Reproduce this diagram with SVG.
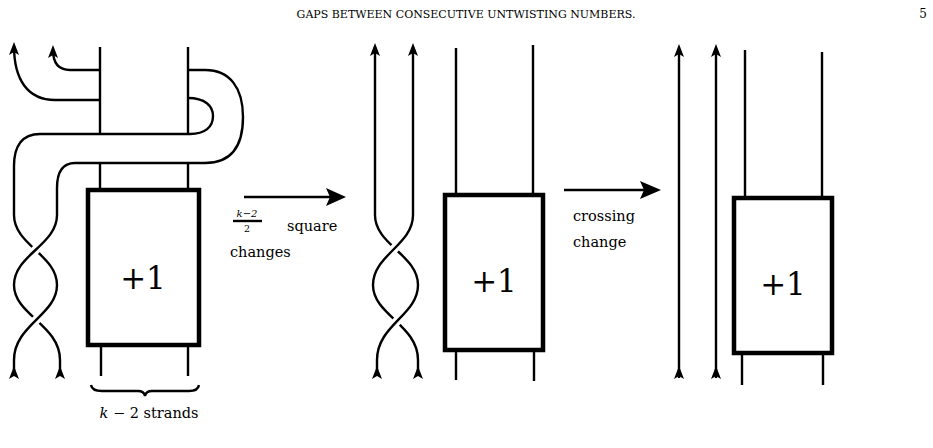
<svg xmlns="http://www.w3.org/2000/svg" width="933" height="448" viewBox="0 0 933 448">
<style>
.s{fill:none;stroke:#000;stroke-width:2.4}
.w{fill:none;stroke:#fff;stroke-width:9}
.b{fill:#fff;stroke:#000;stroke-width:4.5}
.ah{fill:#000}
text{font-family:"DejaVu Serif","Liberation Serif",serif;fill:#000}
</style>
<defs>
<path id="up" d="M0,0 L-5,13 L0,10 L5,13 Z"/>
</defs>
<text x="466" y="18" font-size="11" text-anchor="middle">GAPS BETWEEN CONSECUTIVE UNTWISTING NUMBERS.</text>
<text x="927" y="18" font-size="12" text-anchor="end">5</text>

<g id="left-diagram">
<path class="s" d="M100,47 V134 M188,47 V134 M100,163 V190 M188,163 V190 M101,345 V376 M188,345 V376"/>
<path class="s" d="M14,46 C14,80 28,100 55,100 H100"/>
<path class="s" d="M53,50 C53,62 58,70 70,70 H100"/>
<path class="s" d="M188,70 H205 C230,70 243,88 243,117 C243,148 230,163 205,163 H75 C62,163 57,172 57,188 V215"/>
<path class="s" d="M188,98 C205,98 213,106 213,116 C213,127 205,134 190,134 H40 C22,134 14,146 14,166 V215"/>
<path class="s" d="M14,215 C14,245 57,255 57,285"/>
<path class="s" d="M14,285 C14,315 60,325 60,360 V370"/>
<path class="w" d="M57,215 C57,245 14,255 14,285"/>
<path class="s" d="M57,215 C57,245 14,255 14,285"/>
<path class="w" d="M57,285 C57,315 14,325 14,360"/>
<path class="s" d="M57,285 C57,315 14,325 14,360 V370"/>
<use href="#up" class="ah" x="14" y="42"/>
<use href="#up" class="ah" x="53" y="45"/>
<use href="#up" class="ah" x="14" y="366"/>
<use href="#up" class="ah" x="60" y="366"/>
<rect class="b" x="88" y="190" width="111" height="155"/>
<text x="143" y="289" font-size="31" text-anchor="middle">+1</text>
<path class="s" stroke-width="2" d="M91,385 Q92,391 102,391 H138 Q144,391 145,396 Q146,391 152,391 H189 Q198,391 199,385"/>
<text x="149" y="418" font-size="14.5" text-anchor="middle"><tspan font-style="italic">k</tspan> − 2 strands</text>
</g>

<g id="connectors">
<path class="s" stroke-width="4" d="M244,197 H330"/>
<polygon class="ah" points="346,197 326,188 330,197 326,206"/>
<path class="s" stroke-width="4" d="M564,190 H645"/>
<polygon class="ah" points="661,190 640,181 644,190 640,199"/>
</g>
<g id="labels">
<text x="247" y="217" font-size="10" text-anchor="middle" font-style="italic">k−2</text>
<path class="s" stroke-width="0.8" d="M233,221 H262"/>
<text x="247" y="232" font-size="9.5" text-anchor="middle">2</text>
<text x="287" y="231" font-size="14.5">square</text>
<text x="230" y="257" font-size="14.5">changes</text>
<text x="573" y="221" font-size="14.5">crossing</text>
<text x="573" y="247" font-size="14.5">change</text>
</g>

<g id="middle-diagram">
<path class="s" d="M375,47 V215 M413,47 V215 M456,48 V194 M533,45 V194 M456,350 V380 M534,350 V381"/>
<path class="s" d="M375,215 C375,245 418,255 418,285"/>
<path class="s" d="M373,285 C373,315 418,325 418,360 V370"/>
<path class="w" d="M413,215 C413,245 373,255 373,285"/>
<path class="s" d="M413,215 C413,245 373,255 373,285"/>
<path class="w" d="M418,285 C418,315 377,325 377,360"/>
<path class="s" d="M418,285 C418,315 377,325 377,360 V370"/>
<use href="#up" class="ah" x="375" y="43"/>
<use href="#up" class="ah" x="413" y="43"/>
<use href="#up" class="ah" x="377" y="366"/>
<use href="#up" class="ah" x="418" y="366"/>
<rect class="b" x="445" y="195" width="98" height="155"/>
<text x="494" y="292" font-size="31" text-anchor="middle">+1</text>
</g>

<g id="right-diagram">
<path class="s" d="M679,50 V378 M716,50 V378 M745,50 V198 M822,52 V198 M742,353 V385 M823,353 V385"/>
<use href="#up" class="ah" x="679" y="44"/>
<use href="#up" class="ah" x="716" y="44"/>
<use href="#up" class="ah" x="679" y="366"/>
<use href="#up" class="ah" x="716" y="366"/>
<rect class="b" x="734" y="198" width="98" height="155"/>
<text x="783" y="295" font-size="31" text-anchor="middle">+1</text>
</g>
</svg>
